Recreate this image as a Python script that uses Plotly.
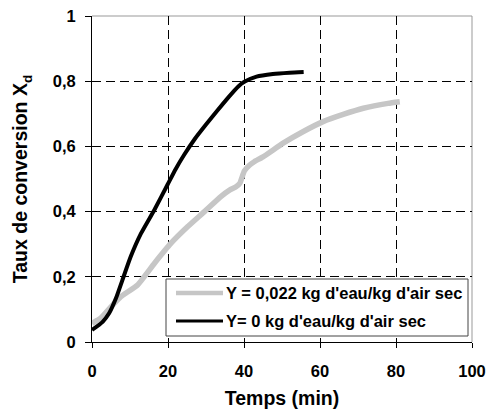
import plotly.graph_objects as go

# Series 1: Y = 0,022 kg d'eau/kg d'air sec (gray)
t_gray = [0, 2.3, 5.0, 7.6, 12.0, 16.4, 20.8, 25.2, 29.6, 33.9, 36.2, 37.9, 38.9, 40.1, 41.5, 42.7, 45.0,
          50.3, 55.5, 60.8, 66.1, 71.4, 77.9, 81]
x_gray = [0.057, 0.073, 0.108, 0.139, 0.175, 0.241, 0.303, 0.354, 0.40, 0.446, 0.466, 0.476, 0.487, 0.525, 0.543, 0.553, 0.568,
          0.61, 0.645, 0.676, 0.698, 0.717, 0.732, 0.737]

# Series 2: Y = 0 kg d'eau/kg d'air sec (black)
t_black = [0, 2.8, 4.5, 6.3, 8.0, 10.2, 12.9, 16.4, 19.9, 22.0, 24.3, 27.0, 30.0, 33.0, 36.0, 38.5, 40.1, 43.3, 47.6, 52.0, 55.7]
x_black = [0.037, 0.062, 0.088, 0.134, 0.19, 0.262, 0.333, 0.405, 0.483, 0.53, 0.575, 0.622, 0.667, 0.71, 0.752, 0.784, 0.798, 0.814, 0.822, 0.826, 0.828]

names = ["Y = 0,022 kg d'eau/kg d'air sec", "Y= 0 kg d'eau/kg d'air sec"]
colors = ["#c6c6c6", "black"]
widths = [5.5, 4]

FONT = "Liberation Sans, Arial, sans-serif"

fig = go.Figure()
fig.add_trace(go.Scatter(x=t_gray, y=x_gray, mode="lines", name=names[0], showlegend=False,
                         line=dict(color=colors[0], width=widths[0], shape="spline", smoothing=0.4)))
fig.add_trace(go.Scatter(x=t_black, y=x_black, mode="lines", name=names[1], showlegend=False,
                         line=dict(color=colors[1], width=widths[1], shape="spline", smoothing=0.5)))

W, H = 488, 415
# plot area in pixels: left 92, right 472, top 16, bottom 342
L, R, T, B = 92, 472, 16, 342
pw, ph = R - L, B - T

def px_x(p):
    return (p - L) / pw

def px_y(p):
    return (B - p) / ph

fig.update_layout(
    width=W, height=H,
    margin=dict(l=L, r=W - R, t=T, b=H - B),
    paper_bgcolor="white", plot_bgcolor="white",
    separators=", ",
    font=dict(family=FONT, color="black"),
    showlegend=False,
    xaxis=dict(range=[0, 100], dtick=20, tick0=0, automargin=False, ticklabeloverflow="allow",
               showgrid=True, gridcolor="black", griddash="9px,5px", gridwidth=1,
               showline=True, linecolor="black", linewidth=1,
               ticks="outside", ticklen=5, tickcolor="black", ticklabelstandoff=9,
               zeroline=False,
               tickfont=dict(family=FONT, size=16.5, color="black", weight="bold"),
               title=dict(text="Temps (min)", standoff=12,
                          font=dict(family=FONT, size=19.5, color="black", weight="bold"))),
    yaxis=dict(range=[0, 1], dtick=0.2, tick0=0, automargin=False, ticklabeloverflow="allow",
               showgrid=True, gridcolor="black", griddash="9px,5px", gridwidth=1,
               showline=True, linecolor="black", linewidth=1,
               ticks="outside", ticklen=6, tickcolor="black", ticklabelstandoff=6,
               zeroline=False,
               tickfont=dict(family=FONT, size=16.5, color="black", weight="bold"),
               title=dict(text="Taux de conversion X<sub>d</sub>", standoff=19,
                          font=dict(family=FONT, size=19.5, color="black", weight="bold"))),
)

# top and right frame (light)
fig.add_shape(type="line", xref="paper", yref="paper", x0=0, x1=1, y0=1, y1=1,
              line=dict(color="#999", width=1), layer="below")
fig.add_shape(type="line", xref="paper", yref="paper", x0=1, x1=1, y0=0, y1=1,
              line=dict(color="#999", width=1), layer="below")

# legend box
fig.add_shape(type="rect", xref="paper", yref="paper",
              x0=px_x(166), x1=px_x(468), y0=px_y(336), y1=px_y(279),
              line=dict(color="#444", width=1), fillcolor="white", layer="above")
rows = [293, 321]
for name, col, w, yy in zip(names, colors, widths, rows):
    fig.add_shape(type="line", xref="paper", yref="paper",
                  x0=px_x(176), x1=px_x(223), y0=px_y(yy), y1=px_y(yy),
                  line=dict(color=col, width=w - 1), layer="above")
    fig.add_annotation(xref="paper", yref="paper", x=px_x(224), y=px_y(yy),
                       xanchor="left", yanchor="middle", showarrow=False, text=name,
                       font=dict(family=FONT, size=16.5, color="black", weight="bold"))

fig.write_html("out.html", config={"displayModeBar": False},
               post_script="document.body.style.margin='0';")
